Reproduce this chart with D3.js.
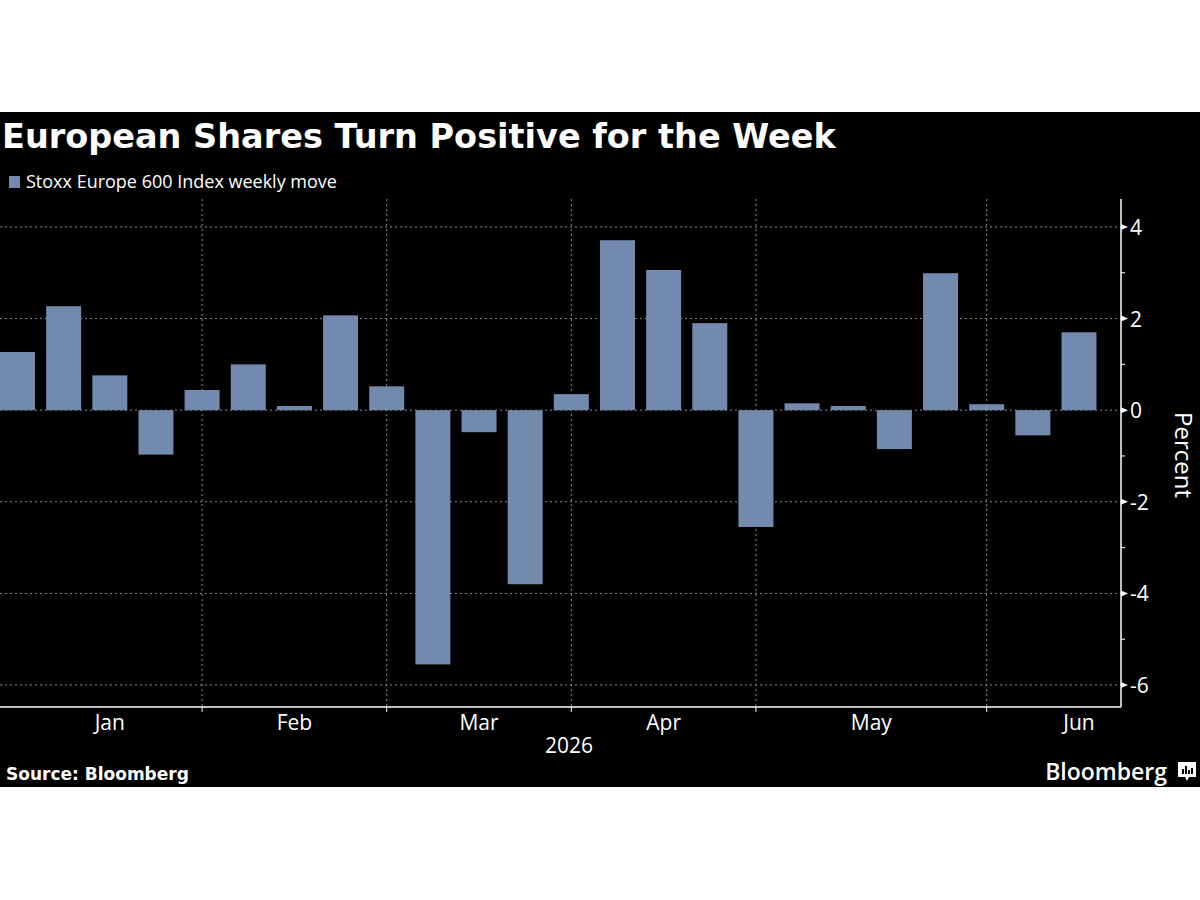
<!DOCTYPE html>
<html>
<head>
<meta charset="utf-8">
<script src="https://cdn.jsdelivr.net/npm/d3@7"></script>
<style>
  body { margin: 0; background: #fff; }
  svg { display: block; }
  text { font-family: "Open Sans", "Noto Sans", sans-serif; fill: #fff; }
  .heavy { font-family: "DejaVu Sans", sans-serif; font-weight: bold; }
</style>
</head>
<body>
<div id="chart"></div>
<script>
// weekly moves, percent
var weekly_move = [1.27, 2.27, 0.76, -0.97, 0.44, 1.0, 0.09, 2.07,
                   0.52, -5.55, -0.48, -3.8, 0.35, 3.71, 3.06, 1.9,
                   -2.55, 0.15, 0.09, -0.85, 2.99, 0.13, -0.55, 1.7];
// index of the first week in each month (last one = next month)
var month_start = [0, 4, 8, 12, 16, 21, 25];
var month_names = ["Jan", "Feb", "Mar", "Apr", "May", "Jun"];
var y_ticks = [4, 2, 0, -2, -4, -6];
var y_minor = [3, 1, -1, -3, -5];

var W = 1200, H = 900;
var svg = d3.select("#chart").append("svg").attr("width", W).attr("height", H);

svg.append("rect").attr("x", 0).attr("y", 112).attr("width", W).attr("height", 675).attr("fill", "#000");

var plotLeft = 0, plotRight = 1121, plotTop = 199, plotBottom = 707;

var x = d3.scaleLinear().domain([0, 23]).range([17.5, 1079]);
var y = d3.scaleLinear().domain([-6.48, 4.61]).range([plotBottom, plotTop]);
var barW = 35;

// grid
var grid = svg.append("g");
grid.selectAll(".hg").data(y_ticks).enter().append("line")
  .attr("x1", plotLeft).attr("x2", plotRight)
  .attr("y1", d => y(d)).attr("y2", d => y(d))
  .attr("stroke", "#8a8a8a").attr("stroke-width", 1).attr("stroke-dasharray", "2,3");
grid.selectAll(".vg").data(month_start.slice(1, -1)).enter().append("line")
  .attr("x1", d => x(d)).attr("x2", d => x(d))
  .attr("y1", plotTop).attr("y2", plotBottom)
  .attr("stroke", "#8a8a8a").attr("stroke-width", 1).attr("stroke-dasharray", "2,3");

// bars
svg.append("g").selectAll("rect").data(weekly_move).enter().append("rect")
  .attr("x", (d, i) => x(i) - barW / 2)
  .attr("width", barW)
  .attr("y", d => y(Math.max(0, d)))
  .attr("height", d => Math.abs(y(d) - y(0)))
  .attr("fill", "#7389ae");

// y axis (right side)
var yAxis = svg.append("g").attr("transform", "translate(" + plotRight + ",0)");
yAxis.append("line").attr("x1", 0).attr("x2", 0).attr("y1", plotTop).attr("y2", plotBottom)
  .attr("stroke", "#fff").attr("stroke-width", 1.5);
yAxis.selectAll(".mj").data(y_ticks).enter().append("path")
  .attr("d", d => "M0," + (y(d) - 3) + "L7," + y(d) + "L0," + (y(d) + 3) + "Z")
  .attr("fill", "#fff");
yAxis.selectAll(".mn").data(y_minor).enter().append("line")
  .attr("x1", 0).attr("x2", 4).attr("y1", d => y(d)).attr("y2", d => y(d))
  .attr("stroke", "#fff").attr("stroke-width", 1);
yAxis.selectAll(".lbl").data(y_ticks).enter().append("text")
  .attr("x", 9).attr("y", d => y(d) + 8)
  .attr("font-size", 21)
  .text(d => d < 0 ? "-" + Math.abs(d) : d);
svg.append("text")
  .attr("transform", "translate(1175,455) rotate(90)")
  .attr("text-anchor", "middle")
  .attr("font-size", 24)
  .text("Percent");

// x axis
svg.append("line").attr("x1", plotLeft).attr("x2", plotRight).attr("y1", plotBottom).attr("y2", plotBottom)
  .attr("stroke", "#fff").attr("stroke-width", 1.5);
svg.append("g").selectAll("line").data(month_start.slice(1, -1)).enter().append("line")
  .attr("x1", d => x(d)).attr("x2", d => x(d))
  .attr("y1", plotBottom).attr("y2", plotBottom + 5)
  .attr("stroke", "#fff").attr("stroke-width", 1);
svg.append("g").selectAll("text").data(month_names).enter().append("text")
  .attr("x", (d, i) => x((month_start[i] + month_start[i + 1]) / 2))
  .attr("y", 730)
  .attr("text-anchor", "middle")
  .attr("font-size", 21)
  .text(d => d);
svg.append("text").attr("x", 569).attr("y", 753).attr("text-anchor", "middle")
  .attr("font-size", 21).text("2026");

// title + legend
svg.append("text").attr("class", "heavy").attr("x", 2).attr("y", 148)
  .attr("font-size", 33.5)
  .text("European Shares Turn Positive for the Week");
svg.append("rect").attr("x", 9).attr("y", 176).attr("width", 11).attr("height", 12).attr("fill", "#7389ae");
svg.append("text").attr("x", 26).attr("y", 188).attr("font-size", 18)
  .text("Stoxx Europe 600 Index weekly move");

// footer
svg.append("text").attr("class", "heavy").attr("x", 6).attr("y", 780).attr("font-size", 17)
  .text("Source: Bloomberg");
svg.append("text").attr("x", 1167).attr("y", 780).attr("text-anchor", "end")
  .attr("font-size", 23).attr("font-weight", 600).text("Bloomberg");
var logo = svg.append("g").attr("transform", "translate(1178,762)");
logo.append("path").attr("d", "M0,0H18V15H11L9,19L7,15H0Z").attr("fill", "#fff");
[[4, 7], [7, 4], [10, 8], [13, 6]].forEach(function(b) {
  logo.append("rect").attr("x", b[0]).attr("y", b[1]).attr("width", 2).attr("height", 12 - b[1]).attr("fill", "#000");
});
</script>
</body>
</html>
